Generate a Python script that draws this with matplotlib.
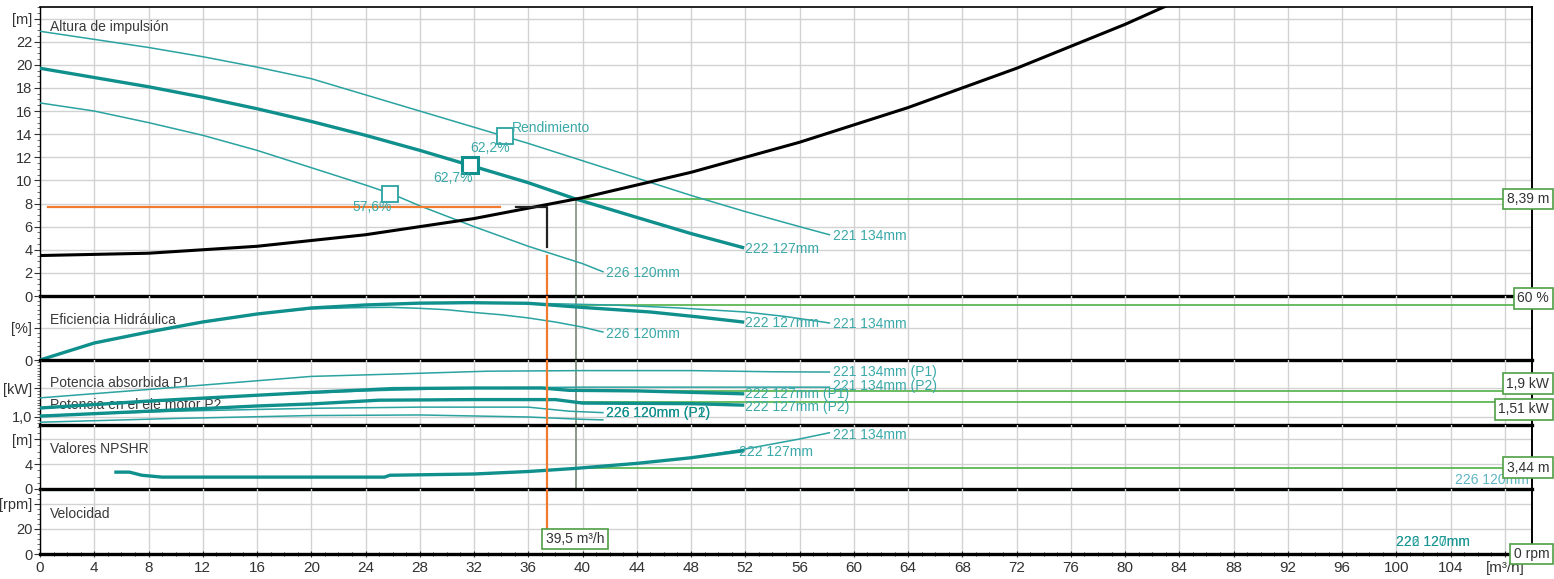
import matplotlib.pyplot as plt
from matplotlib.ticker import MultipleLocator

plt.rcParams['font.family'] = ['Liberation Sans', 'DejaVu Sans']
plt.rcParams['font.size'] = 10

# --- Altura de impulsión [m] ---
q_h_134 = [0, 4, 8, 12, 16, 20, 24, 28, 32, 36, 40, 44, 48, 52, 56, 58.2]
h_134 = [22.9, 22.2, 21.5, 20.7, 19.8, 18.8, 17.4, 16.0, 14.6, 13.2, 11.7, 10.2, 8.7, 7.3, 6.0, 5.3]
q_h_127 = [0, 4, 8, 12, 16, 20, 24, 28, 32, 36, 39.5, 44, 48, 51.8]
h_127 = [19.7, 18.9, 18.1, 17.2, 16.2, 15.1, 13.9, 12.6, 11.2, 9.8, 8.39, 6.8, 5.4, 4.2]
q_h_120 = [0, 4, 8, 12, 16, 20, 24, 26, 28, 32, 36, 40, 41.5]
h_120 = [16.7, 16.0, 15.0, 13.9, 12.6, 11.1, 9.6, 8.8, 7.8, 6.0, 4.3, 2.8, 2.1]

# curva de la instalación
q_sys = [0, 8, 16, 24, 32, 40, 48, 56, 64, 72, 80, 84]
h_sys = [3.5, 3.7, 4.3, 5.3, 6.7, 8.5, 10.7, 13.3, 16.3, 19.7, 23.5, 25.6]

# puntos de rendimiento óptimo
bep_q = [34.3, 31.7, 25.8]
bep_h = [13.8, 11.3, 8.8]
bep_txt = ['62,2%', '62,7%', '57,6%']

# --- Eficiencia hidráulica [%] ---
q_e_134 = [0, 4, 8, 12, 16, 20, 24, 28, 32, 34.3, 38, 42.5, 47, 52, 55, 58.2]
e_134 = [0, 18.6, 30.6, 41.6, 50.3, 56.9, 60.2, 61.8, 62.2, 62.2, 61.5, 60.0, 57.0, 52.5, 47.5, 40.5]
q_e_127 = [0, 4, 8, 12, 16, 20, 24, 28, 31.7, 36, 40, 45, 48.6, 51.8]
e_127 = [0, 18.6, 30.6, 41.6, 50.3, 56.9, 60.2, 62.2, 62.7, 62.0, 57.5, 52.5, 47.0, 41.6]
q_e_120 = [0, 4, 8, 12, 16, 20, 24, 25.8, 28, 30, 32, 34, 36, 38, 40, 41.5]
e_120 = [0, 18.8, 31.0, 42.0, 50.5, 56.0, 57.4, 57.6, 56.5, 55.0, 52.0, 49.5, 46.0, 41.5, 36.0, 30.6]

# --- Potencia [kW] ---
q_p1_134 = [0, 8, 16, 20, 26, 33, 40, 48, 54, 58.2]
p1_134 = [1.66, 1.95, 2.25, 2.40, 2.48, 2.58, 2.60, 2.60, 2.56, 2.55]
q_p2_134 = [0, 8, 16, 24, 32, 40, 48, 58.2]
p2_134 = [1.30, 1.52, 1.75, 1.90, 2.00, 2.03, 2.03, 2.03]
q_p1_127 = [0, 8, 16, 20, 26, 32, 37, 39, 44, 48, 51.8]
p1_127 = [1.31, 1.55, 1.75, 1.85, 1.98, 2.00, 2.00, 1.92, 1.90, 1.85, 1.80]
q_p2_127 = [0, 8, 16, 20, 25, 32, 38, 40, 44, 48, 51.8]
p2_127 = [1.03, 1.20, 1.38, 1.45, 1.58, 1.60, 1.60, 1.48, 1.47, 1.46, 1.41]
q_p1_120 = [0, 10, 20, 28, 36, 39, 41.5]
p1_120 = [1.05, 1.20, 1.30, 1.34, 1.34, 1.20, 1.15]
q_p2_120 = [0, 10, 20, 28, 36, 40, 41.5]
p2_120 = [0.82, 0.95, 1.05, 1.07, 1.00, 0.92, 0.90]

# --- NPSHR [m] ---
q_n_127 = [5.6, 6.6, 7.5, 9, 16, 25.4, 25.8, 32, 36, 39.5, 44, 48, 51.8]
n_127 = [2.7, 2.7, 2.2, 1.9, 1.9, 1.9, 2.2, 2.4, 2.8, 3.3, 4.1, 5.0, 6.1]
q_n_134 = [5.6, 6.6, 7.5, 9, 16, 25.4, 25.8, 32, 36, 39.5, 44, 48, 52, 56, 58.2]
n_134 = [2.7, 2.7, 2.2, 1.9, 1.9, 1.9, 2.2, 2.4, 2.8, 3.3, 4.1, 5.0, 6.4, 8.0, 9.0]
q_n_120 = [0, 110]
n_120 = [-0.15, -0.15]

# punto de servicio
q_op = 39.5
h_op = 8.39
eff_op = 60
p1_op = 1.9
p2_op = 1.51
npsh_op = 3.44
rpm_op = 0
# punto requerido
q_req = 37.4
h_req = 7.7
h_req_low = 4.2

x_ticks = list(range(0, 112, 4))
x_labels = [str(v) for v in range(0, 108, 4)] + ['[m³/h]']

TEAL = '#2aa3a1'
TEAL_DK = '#10908d'
LBL = '#3aa9a8'
GREEN = '#5db653'
ORANGE = '#f07a2e'
GRID = '#d2d2d2'
FS = 10

W, H = 1554, 579
fig = plt.figure(figsize=(W / 100, H / 100), dpi=100)

def add_panel(top, bot):
    ax = fig.add_axes([40 / W, 1 - bot / H, 1492 / W, (bot - top) / H])
    ax.patch.set_visible(False)
    return ax

ax_h = add_panel(7, 296)
ax_e = add_panel(296, 360)
ax_p = add_panel(360, 425)
ax_n = add_panel(425, 489)
ax_s = add_panel(489, 554)
axes = [ax_h, ax_e, ax_p, ax_n, ax_s]

ax_h.set_ylim(0, 25)
ax_e.set_ylim(0, 70)
ax_p.set_ylim(0.724, 2.966)
ax_n.set_ylim(0, 10.24)
ax_s.set_ylim(0, 52)

y_ticks = [list(range(0, 26, 2)), [0, 35], [1.0, 2.0], [0, 4, 8], [0, 20, 40]]
y_labels = [[str(v) for v in range(0, 24, 2)] + ['[m]'], ['0', '[%]'], ['1,0', '[kW]'],
            ['0', '4', '[m]'], ['0', '20', '[rpm]']]
y_minor = [0.5, 5, 0.1, 1, 4]
titles = ['Altura de impulsión', 'Eficiencia Hidráulica', 'Potencia absorbida P1',
          'Valores NPSHR', 'Velocidad']
title_y = [0.93, 0.62, 0.64, 0.63, 0.62]

fig.patch.set_facecolor('white')
for i, ax in enumerate(axes):
    ax.set_xlim(0, 110)
    ax.set_xticks(x_ticks)
    ax.set_yticks(y_ticks[i])
    ax.set_yticklabels(y_labels[i])
    ax.yaxis.set_minor_locator(MultipleLocator(y_minor[i]))
    ax.tick_params(axis='y', which='major', length=4, pad=1.5, colors='#333333', labelsize=10.5)
    ax.tick_params(axis='y', which='minor', length=2.5, color='#555555')
    ax.grid(True, color=GRID, lw=1, zorder=0)
    ax.set_axisbelow(True)
    for s in ax.spines.values():
        s.set_color('black')
    ax.spines['bottom'].set_linewidth(2.4)
    ax.spines['bottom'].set_zorder(7)
    ax.spines['right'].set_linewidth(1.4)
    ax.spines['left'].set_linewidth(1.0)
    if i > 0:
        ax.spines['top'].set_visible(False)
    else:
        ax.spines['top'].set_linewidth(1.2)
    if i < 4:
        ax.tick_params(axis='x', length=0, labelbottom=False)
    ax.text(10 / 1492, title_y[i], titles[i], transform=ax.transAxes, color='#3a3a3a',
            fontsize=FS, va='center', ha='left', zorder=1)

ax_p.text(10 / 1492, 0.30, 'Potencia en el eje motor P2', transform=ax_p.transAxes,
          color='#3a3a3a', fontsize=FS, va='center', ha='left', zorder=1)

ax_s.set_xticklabels(x_labels)
ax_s.xaxis.set_minor_locator(MultipleLocator(1))
ax_s.tick_params(axis='x', which='major', length=4, direction='inout', labelsize=11,
                 colors='#333333', pad=3)
ax_s.tick_params(axis='x', which='minor', length=3, direction='inout')

# --- altura ---
ax_h.plot(q_h_134, h_134, color=TEAL, lw=1.1, zorder=3)
ax_h.plot(q_h_127, h_127, color=TEAL_DK, lw=2.4, zorder=3)
ax_h.plot(q_h_120, h_120, color=TEAL, lw=1.1, zorder=3)
ax_h.plot(q_sys, h_sys, color='black', lw=2.2, zorder=4)
ax_h.plot(bep_q, bep_h, ls='none', marker='s', ms=12, mfc='white', mec=TEAL, mew=1.3, zorder=5)
ax_h.plot(bep_q[1], bep_h[1], ls='none', marker='s', ms=12, mfc='none', mec=TEAL_DK, mew=2.2, zorder=6)
ax_h.text(bep_q[0] + 0.5, bep_h[0] + 0.7, 'Rendimiento', color=LBL, fontsize=FS, va='center', zorder=6)
ax_h.text(bep_q[0] - 2.6, bep_h[0] - 1.0, bep_txt[0], color=LBL, fontsize=FS, va='center', zorder=6)
ax_h.text(bep_q[1] - 2.7, bep_h[1] - 1.1, bep_txt[1], color=LBL, fontsize=FS, va='center', zorder=6)
ax_h.text(bep_q[2] - 2.8, bep_h[2] - 1.1, bep_txt[2], color=LBL, fontsize=FS, va='center', zorder=6)
ax_h.text(q_h_134[-1] + 0.3, h_134[-1] - 0.1, '221 134mm', color=LBL, fontsize=FS, va='center')
ax_h.text(q_h_127[-1] + 0.2, h_127[-1] - 0.1, '222 127mm', color=LBL, fontsize=FS, va='center')
ax_h.text(q_h_120[-1] + 0.2, h_120[-1] - 0.1, '226 120mm', color=LBL, fontsize=FS, va='center')

# líneas del punto de servicio
ax_h.plot([0.6, 33.9], [h_req, h_req], color=ORANGE, lw=1.6, zorder=4)
ax_h.plot([35.1, q_req, q_req], [h_req, h_req, h_req_low], color='#222222', lw=1.6, zorder=4)
ax_h.plot([q_req, q_req], [3.5, 0], color=ORANGE, lw=1.6, zorder=4)
ax_h.plot([q_op, 110], [h_op, h_op], color=GREEN, lw=1.3, zorder=2)
ax_h.plot([q_op, q_op], [h_op, 0], color='#8a9a8a', lw=1.3, zorder=2)

# --- eficiencia ---
ax_e.plot(q_e_134, e_134, color=TEAL, lw=1.1, zorder=3)
ax_e.plot(q_e_120, e_120, color=TEAL, lw=1.1, zorder=3)
ax_e.plot(q_e_127, e_127, color=TEAL_DK, lw=2.4, zorder=3)
ax_e.text(q_e_134[-1] + 0.3, e_134[-1] - 1, '221 134mm', color=LBL, fontsize=FS, va='center')
ax_e.text(q_e_127[-1] + 0.2, e_127[-1] - 1, '222 127mm', color=LBL, fontsize=FS, va='center')
ax_e.text(q_e_120[-1] + 0.2, e_120[-1] - 2, '226 120mm', color=LBL, fontsize=FS, va='center')
ax_e.plot([q_op, 110], [eff_op, eff_op], color=GREEN, lw=1.3, zorder=2)

# --- potencia ---
ax_p.plot(q_p1_134, p1_134, color=TEAL, lw=1.1, zorder=3)
ax_p.plot(q_p2_134, p2_134, color=TEAL, lw=1.1, zorder=3)
ax_p.plot(q_p1_120, p1_120, color=TEAL, lw=1.1, zorder=3)
ax_p.plot(q_p2_120, p2_120, color=TEAL, lw=1.1, zorder=3)
ax_p.plot(q_p1_127, p1_127, color=TEAL_DK, lw=2.4, zorder=3)
ax_p.plot(q_p2_127, p2_127, color=TEAL_DK, lw=2.4, zorder=3)
ax_p.text(q_p1_134[-1] + 0.3, p1_134[-1], '221 134mm (P1)', color=LBL, fontsize=FS, va='center')
ax_p.text(q_p2_134[-1] + 0.3, p2_134[-1] + 0.05, '221 134mm (P2)', color=LBL, fontsize=FS, va='center')
ax_p.text(q_p1_127[-1] + 0.2, p1_127[-1] - 0.02, '222 127mm (P1)', color=LBL, fontsize=FS, va='center')
ax_p.text(q_p2_127[-1] + 0.2, p2_127[-1] - 0.08, '222 127mm (P2)', color=LBL, fontsize=FS, va='center')
ax_p.text(q_p1_120[-1] + 0.2, p1_120[-1], '226 120mm (P1)', color=TEAL_DK, fontsize=FS, va='center')
ax_p.text(q_p2_120[-1] + 0.2, p1_120[-1], '226 120mm (P2)', color=TEAL_DK, fontsize=FS, va='center')
ax_p.plot([q_op, 110], [p1_op, p1_op], color=GREEN, lw=1.3, zorder=2)
ax_p.plot([q_op, 110], [p2_op, p2_op], color=GREEN, lw=1.3, zorder=2)

# --- NPSHR ---
ax_n.plot(q_n_134, n_134, color=TEAL, lw=1.1, zorder=3)
ax_n.plot(q_n_127, n_127, color=TEAL_DK, lw=2.4, zorder=3)
ax_n.plot(q_n_120, n_120, color='#7fd3dc', lw=1.6, zorder=3, clip_on=False)
ax_n.text(q_n_127[-1] - 0.3, n_127[-1] - 0.2, '222 127mm', color=LBL, fontsize=FS, va='center')
ax_n.text(q_n_134[-1] + 0.3, n_134[-1] - 0.3, '221 134mm', color=LBL, fontsize=FS, va='center')
ax_n.text(104.3, 1.4, '226 120mm', color='#5fb5c4', fontsize=FS, va='center', zorder=2)
ax_n.plot([q_op, 110], [npsh_op, npsh_op], color=GREEN, lw=1.3, zorder=2)

# --- velocidad ---
ax_s.text(100, 9.6, '226 120mm', color=LBL, fontsize=FS, va='center')
ax_s.text(100, 9.6, '222 127mm', color=TEAL_DK, fontsize=FS, va='center', alpha=0.8)

# líneas verticales que atraviesan los paneles
for ax in [ax_e, ax_p, ax_n]:
    ax.axvline(q_op, color='#7f907f', lw=1.3, zorder=2)
for ax in [ax_e, ax_p, ax_n]:
    ax.axvline(q_req, color=ORANGE, lw=1.6, zorder=4)
ax_s.plot([q_req, q_req], [52, 7], color=ORANGE, lw=1.6, zorder=6)

# cajas de valores
box = dict(boxstyle='square,pad=0.25', fc='white', ec='#4f9f45', lw=1.2)
bx = 1.0115
tr = lambda ax: ax.get_yaxis_transform()
ax_h.text(bx, h_op, '8,39 m', transform=tr(ax_h), ha='right', va='center', fontsize=FS,
          color='#333333', bbox=box, clip_on=False, zorder=10)
ax_e.text(bx, eff_op, '60 %', transform=tr(ax_e), ha='right', va='bottom', fontsize=FS,
          color='#333333', bbox=box, clip_on=False, zorder=10)
ax_p.text(bx, p1_op, '1,9 kW', transform=tr(ax_p), ha='right', va='bottom', fontsize=FS,
          color='#333333', bbox=box, clip_on=False, zorder=10)
ax_p.text(bx, p2_op, '1,51 kW', transform=tr(ax_p), ha='right', va='top', fontsize=FS,
          color='#333333', bbox=box, clip_on=False, zorder=10)
ax_n.text(bx, npsh_op, '3,44 m', transform=tr(ax_n), ha='right', va='center', fontsize=FS,
          color='#333333', bbox=box, clip_on=False, zorder=10)
ax_s.text(bx, rpm_op, '0 rpm', transform=tr(ax_s), ha='right', va='center', fontsize=FS,
          color='#333333', bbox=box, clip_on=False, zorder=10)
ax_s.text(q_req - 0.1, 12, '39,5 m³/h', ha='left', va='center', fontsize=FS,
          color='#333333', bbox=box, zorder=10)

fig.savefig('out.png', dpi=100, facecolor='white')
